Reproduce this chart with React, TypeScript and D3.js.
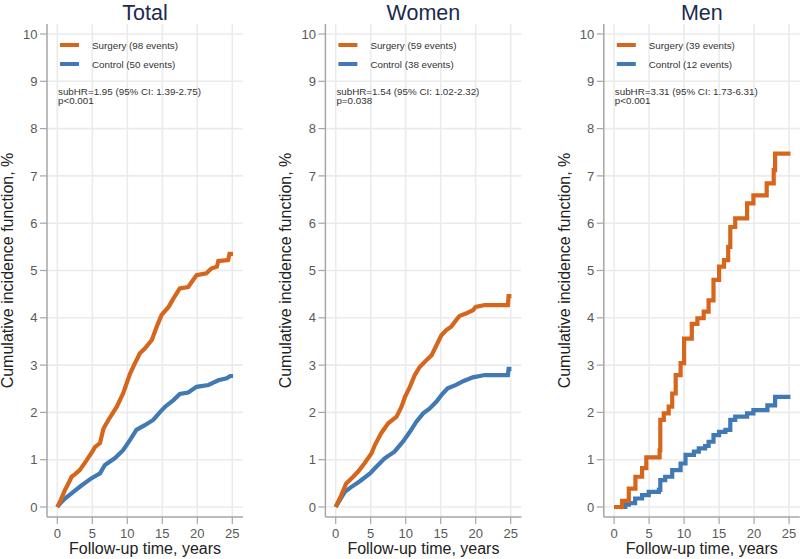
import React from "react";
import * as d3 from "d3";

const panelTitles = ["Total", "Women", "Men"];
const surgeryLabels = ["Surgery (98 events)", "Surgery (59 events)", "Surgery (39 events)"];
const controlLabels = ["Control (50 events)", "Control (38 events)", "Control (12 events)"];
const hrLabels = [
  "subHR=1.95 (95% CI: 1.39-2.75)",
  "subHR=1.54 (95% CI: 1.02-2.32)",
  "subHR=3.31 (95% CI: 1.73-6.31)",
];
const pLabels = ["p<0.001", "p=0.038", "p<0.001"];
const xTicks = [0, 5, 10, 15, 20, 25];
const yTicks = [0, 1, 2, 3, 4, 5, 6, 7, 8, 9, 10];

type P = [number, number];

// Total and Women: densely stepped curves, traced as points along the curve
const totalSurgery: P[] = [
  [0, 0], [0.5, 0.15], [1.1, 0.36], [1.6, 0.5], [2.05, 0.64], [2.6, 0.7], [3.2, 0.78], [4.2, 0.99],
  [5.0, 1.17], [5.4, 1.27], [6.1, 1.35], [6.6, 1.66], [7.3, 1.84], [8.5, 2.12], [9.4, 2.4], [10.4, 2.82],
  [11.1, 3.04], [11.8, 3.25], [12.5, 3.35], [13.5, 3.53], [14.2, 3.81], [14.9, 4.06], [15.9, 4.23],
  [16.6, 4.41], [17.5, 4.62], [18.7, 4.65], [19.4, 4.8], [19.9, 4.9], [21.3, 4.94], [22.0, 5.04],
  [22.8, 5.08], [23.0, 5.2], [24.4, 5.22], [24.6, 5.35], [25.1, 5.35],
];
const totalControl: P[] = [
  [0, 0], [0.5, 0.09], [1.1, 0.18], [2.3, 0.32], [3.5, 0.46], [4.9, 0.61], [6.1, 0.71], [6.8, 0.89],
  [8.2, 1.03], [9.4, 1.2], [10.4, 1.42], [11.3, 1.63], [12.5, 1.73], [13.7, 1.84], [14.7, 2.01],
  [15.4, 2.12], [16.6, 2.26], [17.5, 2.39], [18.7, 2.42], [19.9, 2.54], [21.6, 2.58], [22.3, 2.63],
  [23.0, 2.68], [24.2, 2.72], [24.7, 2.77], [25.1, 2.77],
];
const womenSurgery: P[] = [
  [0, 0], [0.8, 0.25], [1.5, 0.5], [2.5, 0.64], [3.2, 0.75], [4.1, 0.92], [5.1, 1.13], [5.6, 1.31],
  [6.5, 1.56], [7.5, 1.77], [8.7, 1.91], [9.4, 2.12], [9.9, 2.33], [10.6, 2.54], [11.3, 2.79],
  [12.0, 2.96], [13.0, 3.11], [13.7, 3.21], [14.4, 3.42], [15.1, 3.63], [15.8, 3.74], [16.5, 3.81],
  [17.2, 3.95], [17.7, 4.04], [18.6, 4.09], [19.6, 4.16], [20.0, 4.23], [21.3, 4.27], [24.6, 4.27],
  [24.7, 4.46], [25.1, 4.46],
];
const womenControl: P[] = [
  [0, 0], [0.6, 0.15], [1.3, 0.32], [2.2, 0.42], [3.4, 0.54], [4.9, 0.71], [5.8, 0.85], [7.0, 1.03],
  [8.4, 1.17], [9.6, 1.38], [10.6, 1.59], [11.5, 1.8], [12.5, 1.98], [13.4, 2.08], [14.4, 2.23],
  [15.3, 2.4], [16.0, 2.51], [17.2, 2.58], [18.2, 2.66], [19.6, 2.74], [21.3, 2.79], [24.6, 2.79],
  [24.7, 2.92], [25.1, 2.92],
];
// Men: coarse steps, each point is (time of jump, new value)
const menSurgery: P[] = [
  [0, 0], [1.14, 0.13], [2.1, 0.39], [3.05, 0.64], [4.0, 0.82], [4.6, 1.05], [6.5, 1.2], [6.6, 1.84],
  [7.1, 1.98], [7.8, 2.12], [8.3, 2.4], [8.8, 2.79], [9.5, 3.04], [10.0, 3.56], [11.1, 3.87],
  [11.9, 3.99], [12.8, 4.13], [13.5, 4.37], [14.2, 4.8], [15.0, 5.08], [15.7, 5.22], [16.3, 5.5],
  [16.6, 5.92], [17.3, 6.1], [19.0, 6.42], [19.9, 6.59], [21.8, 6.84], [22.8, 7.12], [23.0, 7.47],
  [25.2, 7.47],
];
const menControl: P[] = [
  [0, 0], [1.6, 0.05], [2.1, 0.08], [3.0, 0.18], [4.0, 0.25], [4.95, 0.32], [6.4, 0.36], [6.6, 0.57],
  [7.3, 0.64], [8.3, 0.78], [9.5, 0.92], [10.2, 1.1], [11.4, 1.17], [12.1, 1.24], [13.0, 1.29],
  [13.5, 1.38], [14.2, 1.52], [15.0, 1.59], [15.9, 1.63], [16.6, 1.84], [17.3, 1.91], [19.0, 1.98],
  [19.9, 2.05], [21.9, 2.15], [23.0, 2.33], [25.2, 2.33],
];

const surgerySeries = [totalSurgery, womenSurgery, menSurgery];
const controlSeries = [totalControl, womenControl, menControl];
const curves = [d3.curveLinear, d3.curveLinear, d3.curveStepAfter];

const ORANGE = "#d5661c";
const BLUE = "#4079b3";
const GRID = "#ebebeb";
const AXIS = "#a6a6a6";
const FONT = "'Liberation Sans', Arial, Helvetica, sans-serif";

const W = 800;
const H = 559;
const plotTop = 24;
const plotBottom = 517;
const x0First = 57.3;
const panelStep = 278.4;

export default function App() {
  const y = d3.scaleLinear().domain([0, 10]).range([507, 34]);
  return (
    <svg
      width={W}
      height={H}
      style={{ position: "absolute", left: 0, top: 0, background: "#fff" }}
      fontFamily={FONT}
    >
      <rect x={0} y={0} width={W} height={H} fill="#fff" />
      {panelTitles.map((title, i) => {
        const xs = x0First + i * panelStep;
        const x = d3.scaleLinear().domain([0, 25]).range([xs, xs + 175]);
        const axisX = xs - 10.3;
        const right = Math.min(axisX + 196, W);
        const cx = (axisX + axisX + 196) / 2;
        const line = d3
          .line<P>()
          .x((d) => x(d[0]))
          .y((d) => y(d[1]))
          .curve(curves[i]);
        return (
          <g key={title}>
            {yTicks.map((t) => (
              <line key={"gy" + t} x1={axisX} x2={right} y1={y(t)} y2={y(t)} stroke={GRID} strokeWidth={1.6} />
            ))}
            {xTicks.map((t) => (
              <line key={"gx" + t} x1={x(t)} x2={x(t)} y1={plotTop} y2={plotBottom} stroke={GRID} strokeWidth={1.6} />
            ))}
            <line x1={axisX} x2={axisX} y1={plotTop} y2={plotBottom} stroke={AXIS} strokeWidth={1.5} />
            <line x1={axisX} x2={right} y1={plotBottom} y2={plotBottom} stroke={AXIS} strokeWidth={1.5} />
            {yTicks.map((t) => (
              <g key={"ty" + t}>
                <line x1={axisX - 7} x2={axisX} y1={y(t)} y2={y(t)} stroke={AXIS} strokeWidth={1.2} />
                <text x={axisX - 9.5} y={y(t) + 4.6} textAnchor="end" fontSize={13} fill="#595959">
                  {t}
                </text>
              </g>
            ))}
            {xTicks.map((t) => (
              <g key={"tx" + t}>
                <line x1={x(t)} x2={x(t)} y1={plotBottom} y2={plotBottom + 7} stroke={AXIS} strokeWidth={1.2} />
                <text x={x(t)} y={plotBottom + 20.5} textAnchor="middle" fontSize={13} fill="#595959">
                  {t}
                </text>
              </g>
            ))}
            <path
              d={line(controlSeries[i]) || ""}
              fill="none"
              stroke={BLUE}
              strokeWidth={4.2}
              strokeLinejoin="miter"
            />
            <path
              d={line(surgerySeries[i]) || ""}
              fill="none"
              stroke={ORANGE}
              strokeWidth={4.2}
              strokeLinejoin="miter"
            />
            <text x={cx} y={19.5} textAnchor="middle" fontSize={21.5} fill="#1c2a4d">
              {title}
            </text>
            <text x={cx} y={553.5} textAnchor="middle" fontSize={16} fill="#222">
              Follow-up time, years
            </text>
            <text
              transform={`translate(${axisX - 34},${270.5}) rotate(-90)`}
              textAnchor="middle"
              fontSize={16}
              fill="#222"
            >
              Cumulative incidence function, %
            </text>
            <line x1={axisX + 13} x2={axisX + 32} y1={45} y2={45} stroke={ORANGE} strokeWidth={4} />
            <text x={axisX + 45} y={48.5} fontSize={9.8} fill="#333">
              {surgeryLabels[i]}
            </text>
            <line x1={axisX + 13} x2={axisX + 32} y1={64} y2={64} stroke={BLUE} strokeWidth={4} />
            <text x={axisX + 45} y={67.5} fontSize={9.8} fill="#333">
              {controlLabels[i]}
            </text>
            <text x={axisX + 11} y={94.5} fontSize={9.8} fill="#333">
              {hrLabels[i]}
            </text>
            <text x={axisX + 11} y={104} fontSize={9.8} fill="#333">
              {pLabels[i]}
            </text>
          </g>
        );
      })}
    </svg>
  );
}
